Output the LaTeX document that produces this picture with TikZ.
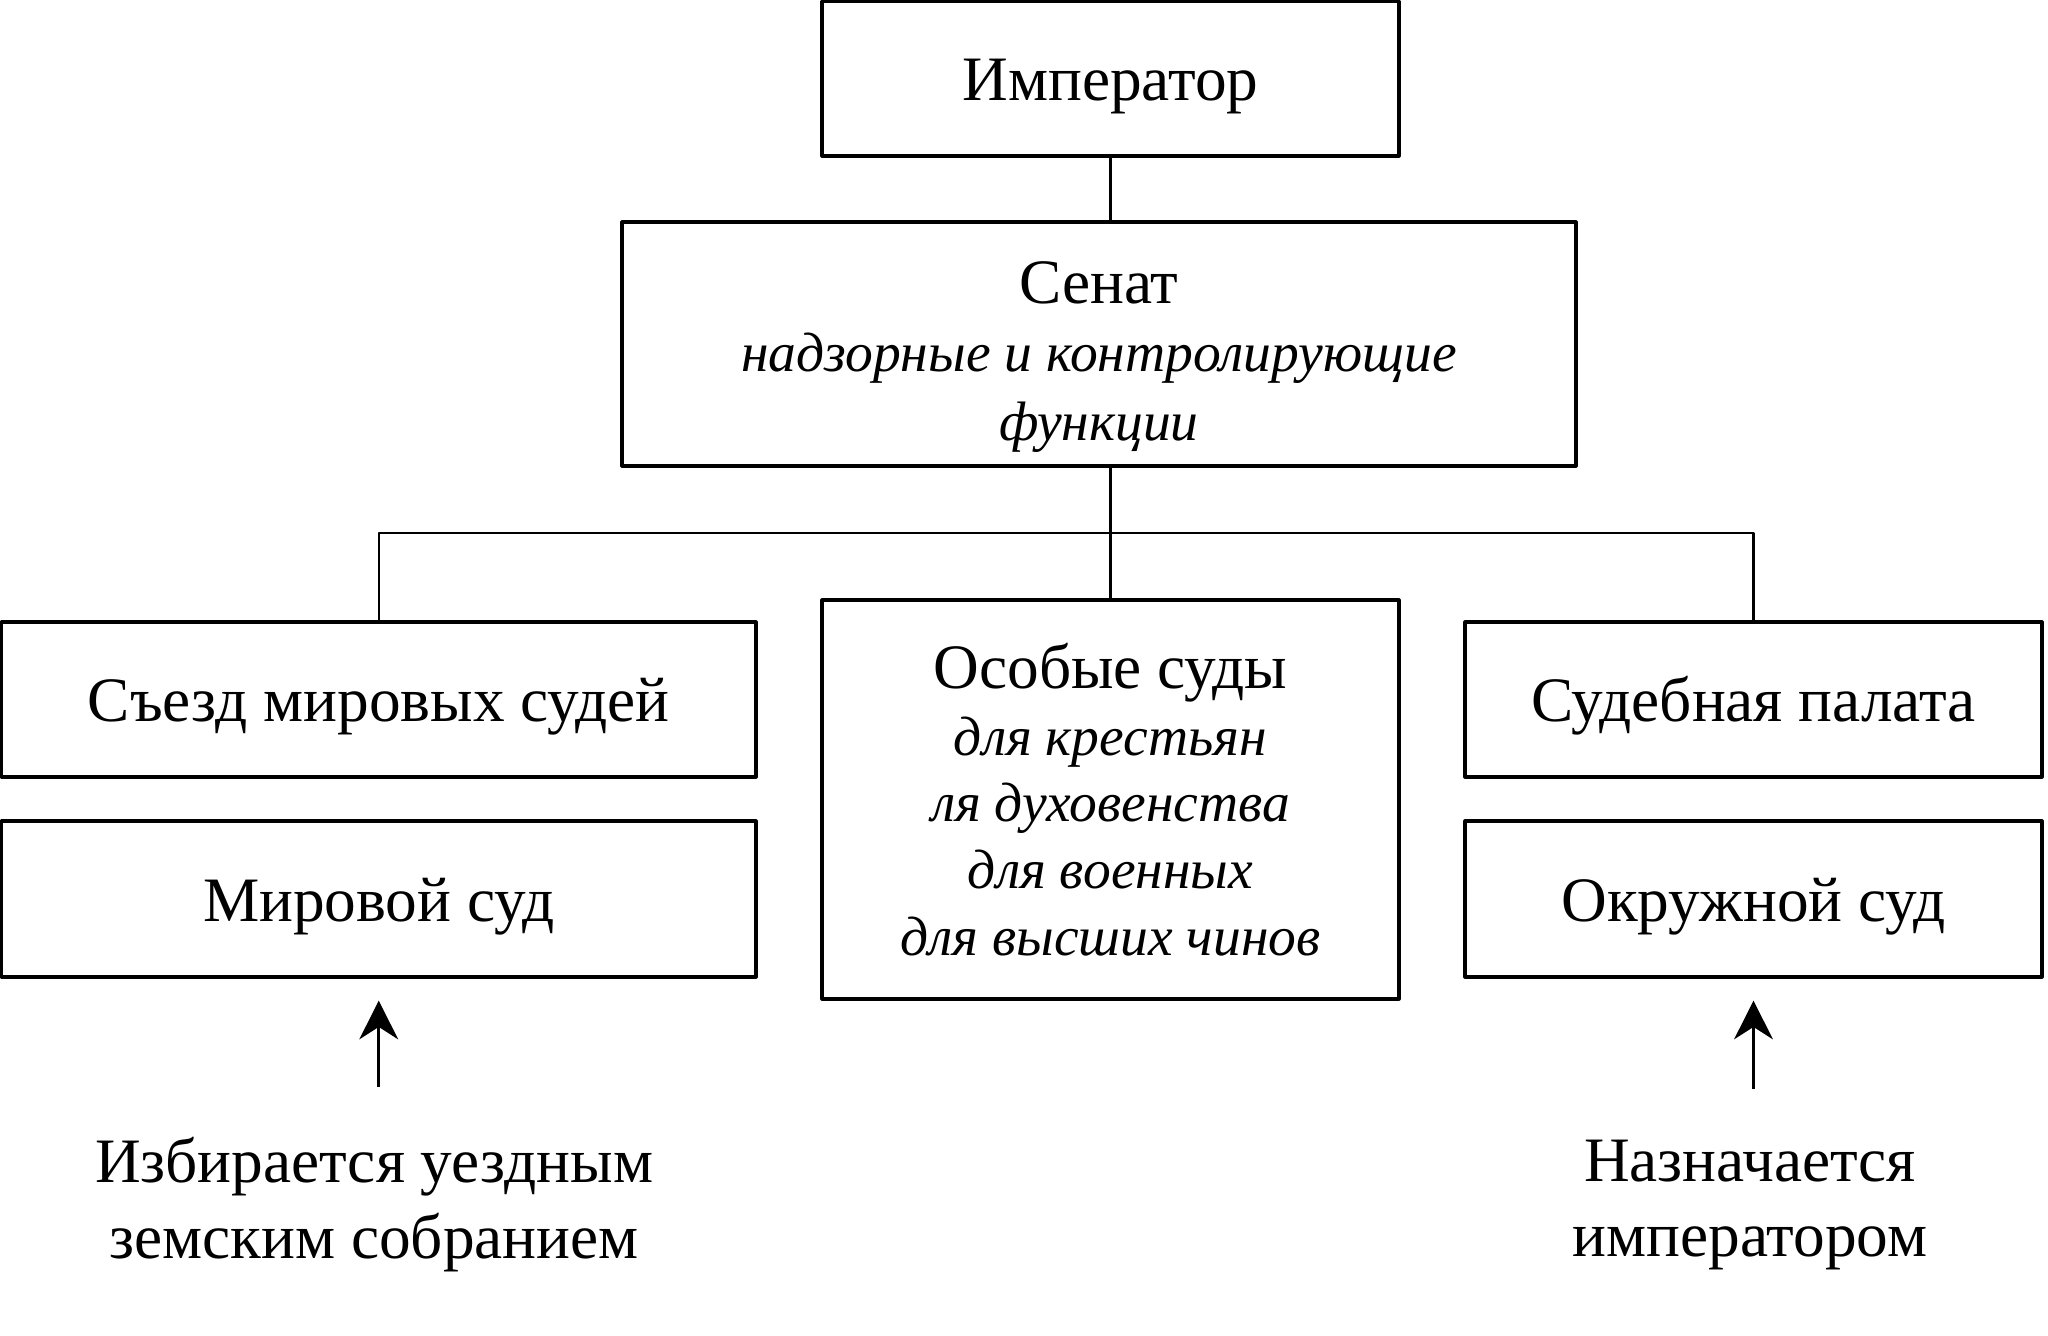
\documentclass[tikz,border=0pt]{standalone}
\usepackage{fontspec}
\setmainfont{Liberation Serif}
\usetikzlibrary{arrows.meta}
\newcommand\smallit[1]{{\fontsize{15.8}{19}\selectfont\itshape #1}}

\begin{document}
\begin{tikzpicture}[line join=round,>={Stealth[length=11pt,width=11pt,inset=3.5pt]},
font=\fontsize{18}{19}\selectfont,
box/.style={draw,line width=.9pt,inner sep=0pt,align=center},
single/.style={text height=12.6pt,text depth=0pt},
link/.style={line width=.6pt},
up/.style={->,line width=.9pt},
note/.style={align=center,inner sep=0pt,font=\fontsize{18}{21.6}\selectfont}]
\useasboundingbox (0,0) rectangle (20.48,-13.36);

% top
\node[box,single,minimum width=5.77cm,minimum height=1.545cm] (imp) at (11.105,-0.7875) {Император};
\node[box,minimum width=9.54cm,minimum height=2.44cm] (sen) at (10.99,-3.44) {};
\node[align=center,inner sep=0pt,font=\fontsize{18}{19.6}\selectfont] (sentext) at ([yshift=-0.13cm]sen.center)
{Сенат\\ \smallit{надзорные и контролирующие}\\ \smallit{функции}};

% courts
\node[box,single,minimum width=7.545cm,minimum height=1.55cm] (sjezd) at (3.7875,-6.995) {Съезд мировых судей};
\node[box,single,minimum width=7.545cm,minimum height=1.56cm] (mir) at (3.7875,-8.99) {Мировой суд};
\node[box,minimum width=5.77cm,minimum height=3.99cm] (osob) at (11.105,-7.995)
{Особые суды\\ \smallit{для крестьян}\\ \smallit{ля духовенства}\\ \smallit{для военных}\\ \smallit{для высших чинов}};
\node[box,single,minimum width=5.77cm,minimum height=1.55cm] (sud) at (17.535,-6.995) {Судебная палата};
\node[box,single,minimum width=5.77cm,minimum height=1.56cm] (okr) at (17.535,-8.99) {Окружной суд};

% notes
\node[note] (elect) at (3.74,-12.05) {Избирается уездным\\ земским собранием};
\node[note] (appoint) at (17.5,-12.05) {Назначается\\ императором};

\coordinate (bar) at (11.105,-5.33);
\draw[link] (imp.south) -- (imp.south |- sen.north);
\draw[link] (osob.north) -- (osob.north |- sen.south);
\draw[link] (sjezd.north) |- (bar) -| (sud.north);

\draw[up,shorten <=0.5cm] (mir.south |- elect.north) -- ([yshift=-0.22cm]mir.south);
\draw[up,shorten <=0.5cm] (okr.south |- appoint.north) -- ([yshift=-0.22cm]okr.south);

\end{tikzpicture}
\end{document}
